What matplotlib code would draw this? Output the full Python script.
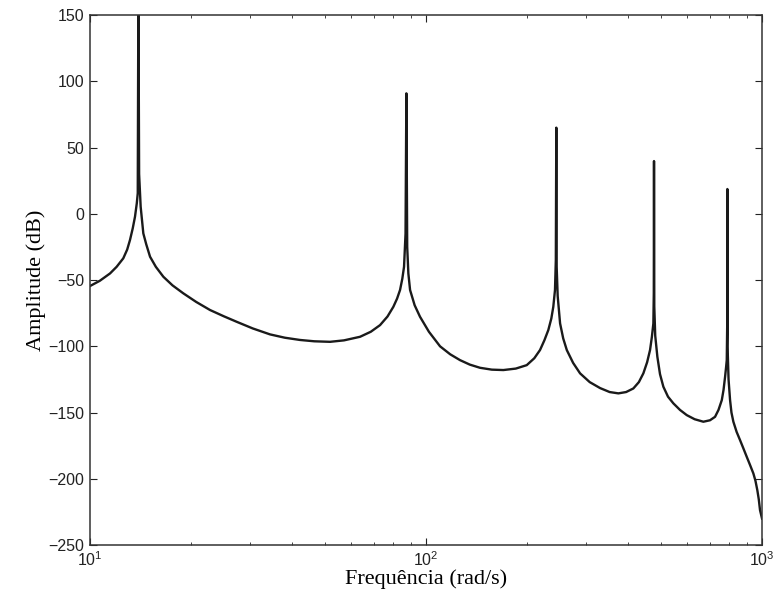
import matplotlib.pyplot as plt
import numpy as np

# Frequency response magnitude (rad/s, dB), five resonances
freq = [10.0, 10.7, 11.47, 12.0, 12.56, 12.9, 13.15, 13.4, 13.61, 13.78,
        13.87, 13.93, 14.0, 14.15, 14.41, 14.7, 15.09, 15.7, 16.53, 17.6,
        18.95, 20.7, 22.76, 25.0, 27.33, 30.5, 34.34, 38.0, 42.17, 46.5,
        51.8, 57.0, 63.62, 68.5, 72.97, 76.8, 79.93, 82.0, 83.69, 85.0,
        86.01, 86.9, 87.4, 87.9, 88.6, 89.65, 92.5, 95.97, 102.0, 110.1,
        118.0, 126.2, 135.0, 144.8, 157.0, 169.9, 185.0, 199.4, 210.0, 218.4,
        225.0, 231.2, 236.0, 239.2, 242.0, 243.4, 244.2, 244.8, 246.5, 250.6,
        256.0, 262.4, 274.0, 287.4, 307.0, 329.6, 352.0, 373.6, 394.0, 414.0,
        430.0, 443.4, 455.0, 464.2, 470.0, 474.9, 476.3, 477.0, 477.9, 481.0,
        488.1, 497.0, 508.6, 525.0, 544.5, 570.0, 596.9, 630.0, 668.9, 700.0,
        724.7, 742.0, 759.0, 768.0, 776.3, 781.5, 785.3, 787.6, 788.6, 789.6,
        795.0, 803.3, 811.0, 821.7, 840.0, 860.2, 880.0, 900.6, 921.0, 942.3,
        956.0, 968.2, 978.0, 986.3, 1000.0]
amp_db = [-54.5, -50.5, -45.0, -40.0, -33.6, -27.0, -19.8, -11.0, -2.2, 8.0,
          15.6, 170.0, 30.0, 5.3, -14.8, -23.0, -32.4, -40.0, -47.5, -54.0,
          -60.0, -66.5, -72.6, -77.3, -81.5, -86.5, -91.0, -93.5, -95.2, -96.2,
          -96.6, -95.5, -92.8, -89.0, -84.0, -77.5, -70.2, -64.0, -57.5, -49.0,
          -40.0, -15.0, 90.9, -25.0, -45.0, -57.5, -69.0, -77.7, -89.0, -100.0,
          -106.0, -110.4, -113.8, -116.2, -117.6, -117.9, -116.8, -114.2, -109.0, -102.8,
          -95.5, -87.7, -79.0, -70.2, -57.5, -35.0, 65.0, -40.0, -62.0, -82.7,
          -94.0, -102.8, -112.5, -120.4, -127.0, -131.5, -134.5, -135.5, -134.5, -131.8,
          -127.0, -120.4, -112.0, -102.8, -93.0, -82.7, -60.0, 39.8, -70.0, -92.0,
          -107.9, -121.0, -130.5, -138.0, -143.0, -148.0, -151.9, -155.0, -156.9, -155.8,
          -153.2, -148.0, -140.6, -133.0, -123.0, -116.0, -110.4, -85.0, 18.7, -100.0,
          -125.0, -140.6, -150.0, -156.9, -164.5, -170.8, -177.0, -183.4, -189.5, -195.9,
          -201.5, -208.5, -215.5, -223.6, -230.0]

yticks = [-250, -200, -150, -100, -50, 0, 50, 100, 150]

plt.rcParams['font.family'] = ['Liberation Sans', 'DejaVu Sans']

fig = plt.figure(figsize=(7.76, 6.01), dpi=100)
ax = fig.add_axes([0.116, 0.093, 0.866, 0.882])

ax.semilogx(freq, amp_db, color='#1a1a1a', linewidth=1.7, solid_joinstyle='round')
ax.set_xlim(10, 1000)
ax.set_ylim(-250, 150)
ax.set_yticks(yticks)

ax.tick_params(which='both', direction='in', top=True, right=True,
               labelsize=11.5, colors='#222222', pad=4)
ax.tick_params(which='major', length=5)
ax.tick_params(which='minor', length=2.5)
for s in ax.spines.values():
    s.set_linewidth(1.1)
    s.set_color('#333333')

ax.set_xlabel('Frequência (rad/s)', family='Liberation Serif', fontsize=16, labelpad=0)
ax.set_ylabel('Amplitude (dB)', family='Liberation Serif', fontsize=16, labelpad=2)

fig.savefig('out.png', dpi=100)
